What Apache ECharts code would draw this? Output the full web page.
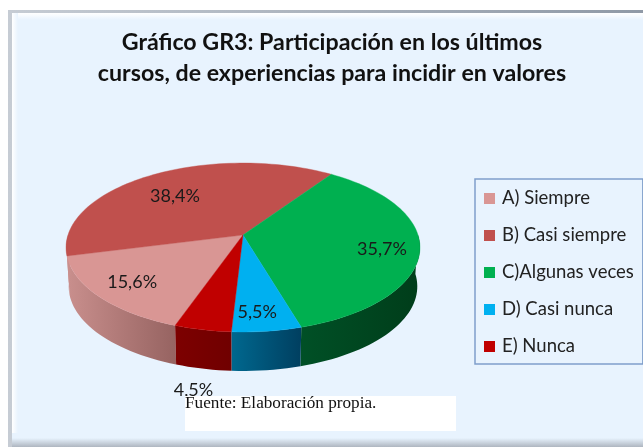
<!DOCTYPE html>
<html>
<head>
<meta charset="utf-8">
<style>html,body{margin:0;padding:0;background:#fff}#c{width:643px;height:447px}</style>
<script src="https://cdn.jsdelivr.net/npm/echarts@6/dist/echarts.min.js"></script>
</head>
<body>
<div id="c"></div>
<script>
var categories = ['A) Siempre', 'B) Casi siempre', 'C)Algunas veces', 'D) Casi nunca', 'E) Nunca'];
var values = [15.6, 38.4, 35.7, 5.5, 4.5];
var valueLabels = ['15,6%', '38,4%', '35,7%', '5,5%', '4,5%'];
var colors = ['#d99694', '#c0504d', '#00b050', '#00b0f0', '#c00000'];
var sideFrom = ['#c98f8d', '#c98f8d', '#005026', '#00688f', '#7d0000'];
var sideTo = ['#966361', '#c98f8d', '#003d1a', '#003f60', '#700000'];
var labelAngles = [228, 320.5, 102.6, 175, 188.6];
var labelRadii = [0.786, 0.657, 0.793, 0.822, 1.483];
var firstSliceAngle = 199.5;

var CX = 243, CY = 235, RX = 175, RY = 82.6, K = 0.148, DEPTH = 39, BOTTOM_SCALE = 0.985;
var total = values.reduce(function (a, b) { return a + b; }, 0);

function project(deg, r, bottom) {
  var a = deg * Math.PI / 180, u = r * Math.sin(a), v = -r * Math.cos(a), w = 1 / (1 - K * v);
  var s = bottom ? BOTTOM_SCALE : 1;
  return [CX + RX * u * w * s, CY + RY * v * w + (bottom ? DEPTH : 0)];
}
function sliceRange(i) {
  var start = firstSliceAngle;
  for (var j = 0; j < i; j++) start += values[j] / total * 360;
  return [start, start + values[i] / total * 360];
}
function arcPoints(a0, a1, r, bottom) {
  var n = Math.max(2, Math.ceil(Math.abs(a1 - a0) / 2)), pts = [];
  for (var i = 0; i <= n; i++) pts.push(project(a0 + (a1 - a0) * i / n, r, bottom));
  return pts;
}
function frontParts(a0, a1) {
  var parts = [], k;
  for (k = -1; k <= 2; k++) {
    var lo = Math.max(a0, 90 + 360 * k), hi = Math.min(a1, 270 + 360 * k);
    if (hi > lo) parts.push([lo, hi]);
  }
  return parts;
}
function renderSlice(i) {
  return function (params, api) {
    var range = sliceRange(i), children = [];
    frontParts(range[0], range[1]).forEach(function (p) {
      var top = arcPoints(p[0], p[1], 1, false), bot = arcPoints(p[0], p[1], 1, true).reverse();
      children.push({
        type: 'polygon', z2: 1,
        shape: { points: top.concat(bot) },
        style: {
          fill: new echarts.graphic.LinearGradient(0, 0, 1, 0, [
            { offset: 0, color: sideFrom[i] }, { offset: 1, color: sideTo[i] }
          ]),
          stroke: null
        }
      });
    });
    children.push({
      type: 'polygon', z2: 2,
      shape: { points: [project(0, 0, false)].concat(arcPoints(range[0], range[1], 1, false)) },
      style: { fill: colors[i], stroke: colors[i], lineWidth: 0.4 }
    });
    var lp = project(labelAngles[i], labelRadii[i], false);
    children.push({
      type: 'text', z2: 3, x: lp[0], y: lp[1],
      style: {
        text: valueLabels[i], fill: '#1a1a1a', align: 'center', verticalAlign: 'middle',
        font: '18px Lato, "Open Sans", sans-serif'
      }
    });
    return { type: 'group', children: children };
  };
}

var chart = echarts.init(document.getElementById('c'), null, { renderer: 'canvas' });
chart.setOption({
  animation: false,
  backgroundColor: '#ffffff',
  color: colors,
  title: {
    text: 'Gráfico GR3: Participación en los últimos\ncursos, de experiencias para incidir en valores',
    left: 327, top: 22, textAlign: 'center',
    textStyle: { fontFamily: 'Lato, sans-serif', fontWeight: 'bold', fontSize: 23.2, lineHeight: 31, color: '#111111' }
  },
  legend: {
    orient: 'vertical', left: 475, top: 179,
    padding: [10, 9, 8, 9],
    itemWidth: 11, itemHeight: 11, itemGap: 18,
    icon: 'rect',
    borderColor: '#7f9fcb', borderWidth: 1.5,
    backgroundColor: '#e8f3fe',
    data: categories,
    selectedMode: false,
    textStyle: { fontFamily: 'Lato, sans-serif', fontSize: 18.5, lineHeight: 19, color: '#222222', padding: [0, 0, 0, 2] }
  },
  graphic: [
    { type: 'rect', z: -10, shape: { x: 8, y: 10, width: 640, height: 437 }, style: { fill: new echarts.graphic.LinearGradient(0, 0, 1, 0, [{ offset: 0, color: '#c6ccd4' }, { offset: 1, color: '#8f99a6' }]) } },
    { type: 'rect', z: -9, shape: { x: 12, y: 13, width: 640, height: 434 }, style: { fill: '#e8f3fe' } },
    { type: 'rect', z: -8, shape: { x: 12, y: 13, width: 631, height: 7 }, style: { fill: new echarts.graphic.LinearGradient(0, 0, 0, 1, [{ offset: 0, color: '#ffffff' }, { offset: 1, color: '#e8f3fe' }]) } },
    { type: 'rect', z: -8, shape: { x: 12, y: 13, width: 6, height: 420 }, style: { fill: new echarts.graphic.LinearGradient(0, 0, 1, 0, [{ offset: 0, color: '#ffffff' }, { offset: 1, color: '#e8f3fe' }]) } },
    { type: 'rect', z: -8, shape: { x: 12, y: 438, width: 631, height: 9 }, style: { fill: new echarts.graphic.LinearGradient(0, 0, 0, 1, [{ offset: 0, color: '#e8f3fe' }, { offset: 1, color: '#aeb6c0' }]) } },
    { type: 'rect', z: 100, shape: { x: 185, y: 396, width: 271, height: 35 }, style: { fill: '#ffffff' } },
    { type: 'text', z: 101, x: 185, y: 395, style: { text: 'Fuente: Elaboración propia.', font: '17.2px "Liberation Serif", serif', fill: '#111111' } }
  ],
  series: categories.map(function (name, i) {
    return {
      type: 'custom', name: name, coordinateSystem: 'none',
      data: [values[i]], silent: true, clip: false,
      itemStyle: { color: colors[i] },
      renderItem: renderSlice(i)
    };
  })
});
</script>
</body>
</html>
